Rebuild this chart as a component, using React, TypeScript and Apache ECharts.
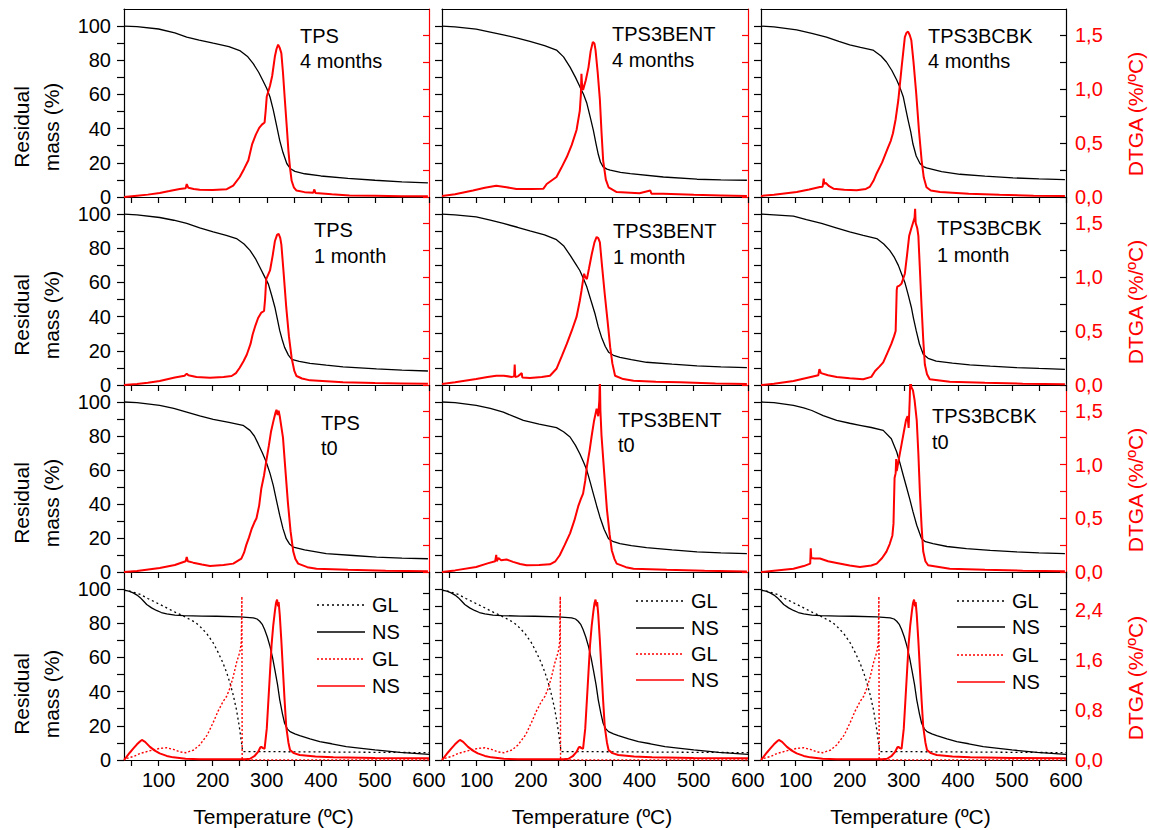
import React, { useEffect, useRef } from 'react';
import * as echarts from 'echarts';

type Pt = [number, number];

// ---------- Tick / label values ----------
const xTicks = [50, 100, 150, 200, 250, 300, 350, 400, 450, 500, 550, 600];
const xLabels = [100, 200, 300, 400, 500, 600];
const massTicks = [0, 10, 20, 30, 40, 50, 60, 70, 80, 90, 100];
const massLabels = [0, 20, 40, 60, 80, 100];
const dtgaTicks = [0, 0.25, 0.5, 0.75, 1, 1.25, 1.5];
const dtgaLabels = [0, 0.5, 1, 1.5];
const dtgaTicks4 = [0, 0.2667, 0.5333, 0.8, 1.0667, 1.3333, 1.6, 1.8667, 2.1333, 2.4, 2.6667];
const dtgaLabels4 = [0, 0.8, 1.6, 2.4];

const sampleNames = ['TPS', 'TPS3BENT', 'TPS3BCBK'];
const ageNames = ['4 months', '1 month', 't0'];

// ---------- Row 1: 4 months ----------
const tga_TPS_4m: Pt[] = [[36,100],[60,99.7],[100,98.3],[130,96],[152,93.6],[175,91.8],[201,90],[230,88],[250,85.7],[265,82],[275,78],[285,73],[293,68],[300,63.5],[306,58.5],[312,51],[318,42],[324,33],[330,26],[337,19.6],[344,16.5],[352,15],[370,13.6],[400,12.3],[450,10.9],[500,9.8],[550,8.9],[598,8.3]];
const dtga_TPS_4m: Pt[] = [[36,0],[60,0.012],[80,0.022],[102,0.037],[120,0.055],[139,0.075],[150,0.08],[152,0.12],[155,0.085],[165,0.075],[176,0.068],[200,0.065],[226,0.072],[238,0.105],[250,0.185],[258,0.26],[266,0.34],[273,0.49],[280,0.58],[286,0.64],[291,0.67],[296,0.69],[298,0.8],[300,0.93],[306,1.03],[310,1.12],[315,1.3],[318,1.37],[321,1.41],[324,1.38],[327,1.33],[330,1.15],[333,0.93],[337,0.65],[340,0.43],[343,0.27],[346,0.15],[350,0.09],[355,0.06],[370,0.045],[386,0.04],[388,0.07],[390,0.038],[420,0.025],[453,0.015],[500,0.012],[550,0.008],[598,0.006]];

const tga_BENT_4m: Pt[] = [[36,100],[60,99.6],[99,98.2],[125,96.5],[149,94.9],[175,93],[198,91],[225,88.6],[247,86],[260,82],[272,76],[282,70],[290,64.6],[297,60],[303,54.8],[309,47],[315,39],[320,31],[324,25],[328,20.5],[333,17.6],[340,16.3],[346,15.7],[365,14.4],[383,13.7],[444,11.7],[506,10.4],[550,10],[598,9.8]];
const dtga_BENT_4m: Pt[] = [[36,0.01],[60,0.025],[93,0.06],[115,0.085],[136,0.105],[155,0.09],[173,0.074],[200,0.074],[223,0.077],[229,0.12],[247,0.185],[256,0.27],[266,0.37],[275,0.48],[284,0.62],[290,0.8],[292,0.95],[293,1.14],[294,1.05],[296,0.99],[301,1.08],[306,1.2],[310,1.35],[314,1.435],[317,1.42],[319,1.36],[323,1.15],[327,0.9],[330,0.6],[333,0.34],[338,0.16],[343,0.09],[358,0.046],[400,0.035],[420,0.06],[422,0.03],[444,0.03],[500,0.02],[550,0.015],[598,0.01]];

const tga_BCBK_4m: Pt[] = [[36,100],[60,99.5],[102,97.8],[130,95.8],[157,93.5],[180,91],[200,89],[220,87.5],[243,86],[258,82.5],[268,79],[278,74],[287,68.5],[293,64],[299,58.7],[304,51],[308,45],[313,38],[317,31],[323,24],[330,19.6],[336,17.8],[342,17],[370,14.8],[404,13.3],[450,12.2],[502,11.2],[550,10.6],[598,10.2]];
const dtga_BCBK_4m: Pt[] = [[36,0.01],[60,0.02],[102,0.046],[125,0.07],[145,0.093],[150,0.095],[152,0.17],[153,0.12],[156,0.13],[162,0.1],[170,0.077],[190,0.066],[213,0.062],[230,0.075],[237,0.093],[244,0.15],[250,0.22],[260,0.32],[271,0.46],[276,0.52],[280,0.59],[285,0.72],[290,0.9],[296,1.2],[302,1.48],[305,1.52],[308,1.53],[311,1.5],[314,1.45],[318,1.25],[323,0.96],[328,0.62],[333,0.34],[337,0.18],[342,0.09],[350,0.06],[367,0.046],[420,0.03],[477,0.02],[540,0.012],[598,0.01]];

// ---------- Row 2: 1 month ----------
const tga_TPS_1m: Pt[] = [[36,100],[60,99.6],[102,98],[128,96.4],[152,94.5],[176,92],[201,89.6],[225,87.6],[244,85.7],[258,82.5],[269,78.8],[279,74],[287,69],[295,64],[303,59],[309,52.5],[315,45.5],[320,38],[324,31.8],[329,26],[333,22],[340,17.5],[346,15],[360,13.8],[380,12.7],[410,11.6],[441,10.6],[503,9.4],[550,8.7],[598,8.2]];
const dtga_TPS_1m: Pt[] = [[36,0],[60,0.01],[80,0.02],[102,0.037],[130,0.07],[148,0.085],[152,0.105],[155,0.09],[170,0.075],[195,0.068],[220,0.075],[235,0.083],[243,0.11],[250,0.16],[257,0.22],[263,0.28],[270,0.38],[274,0.47],[279,0.55],[284,0.62],[290,0.67],[295,0.685],[297,0.8],[299,0.98],[306,1.06],[311,1.2],[315,1.33],[319,1.39],[322,1.4],[325,1.36],[327,1.3],[331,1.05],[336,0.72],[341,0.45],[346,0.25],[351,0.13],[355,0.083],[365,0.06],[380,0.043],[441,0.025],[500,0.018],[550,0.015],[598,0.012]];

const tga_BENT_1m: Pt[] = [[36,100],[60,99.6],[99,98.4],[125,96.5],[149,94.5],[175,92.3],[198,90.2],[225,87.8],[247,85],[260,81.5],[272,76],[282,71],[290,67],[297,62],[303,57.3],[310,50],[318,41.7],[324,34],[330,28],[337,22.5],[343,19.2],[352,17.4],[364,16.2],[385,14.8],[413,13.3],[460,12.2],[506,11.2],[550,10.6],[598,10.2]];
const dtga_BENT_1m: Pt[] = [[36,0.01],[60,0.025],[99,0.056],[120,0.075],[136,0.086],[150,0.085],[165,0.075],[169,0.08],[170,0.19],[171,0.075],[176,0.08],[183,0.11],[184,0.07],[198,0.065],[220,0.075],[235,0.086],[247,0.15],[257,0.27],[266,0.38],[275,0.5],[284,0.63],[290,0.78],[293,0.87],[296,0.97],[298,1.03],[300,1.0],[303,0.98],[307,1.08],[312,1.21],[317,1.32],[321,1.37],[324,1.36],[327,1.32],[331,1.1],[336,0.84],[341,0.6],[346,0.35],[350,0.2],[355,0.086],[370,0.055],[389,0.04],[430,0.03],[475,0.025],[540,0.015],[598,0.01]];

const tga_BCBK_1m: Pt[] = [[36,100],[60,99.6],[96,98.8],[120,96.8],[148,94.5],[175,92],[200,89.6],[225,87.6],[250,85.7],[263,82.5],[274,78.8],[282,75],[290,70],[296,65],[302,60],[308,53],[314,45.5],[318,39],[323,31.8],[329,24],[336,18],[345,15.6],[360,14],[390,12.8],[422,11.8],[460,11],[508,10.2],[550,9.7],[598,9.2]];
const dtga_BCBK_1m: Pt[] = [[36,0],[60,0.012],[96,0.037],[120,0.065],[142,0.09],[144,0.146],[147,0.11],[160,0.09],[176,0.075],[200,0.062],[225,0.053],[240,0.075],[247,0.13],[255,0.17],[262,0.21],[270,0.3],[277,0.38],[282,0.45],[285,0.5],[287,0.88],[288,0.91],[292,0.92],[296,0.94],[302,1.03],[306,1.2],[310,1.38],[314,1.45],[317,1.5],[320,1.55],[321,1.63],[322,1.5],[325,1.45],[327,1.38],[330,1.05],[333,0.72],[336,0.42],[339,0.19],[343,0.1],[348,0.053],[385,0.03],[450,0.02],[520,0.012],[598,0.006]];

// ---------- Row 3: t0 ----------
const tga_TPS_t0: Pt[] = [[36,100],[60,99.6],[102,98],[128,96.2],[152,94],[176,91.8],[201,89.8],[230,88],[256,86.3],[269,83.3],[277,80],[284,75.5],[292,70],[299,64.7],[306,58],[312,51],[318,42],[324,33.3],[330,25.5],[336,19.6],[342,16.5],[349,14.7],[370,13],[410,10.8],[460,9.7],[503,8.8],[550,8.2],[598,7.8]];
const dtga_TPS_t0: Pt[] = [[36,0],[60,0.01],[102,0.037],[130,0.065],[150,0.1],[152,0.14],[154,0.1],[164,0.087],[180,0.07],[195,0.056],[220,0.065],[238,0.078],[253,0.124],[258,0.18],[262,0.25],[267,0.32],[272,0.4],[277,0.46],[281,0.5],[286,0.62],[290,0.78],[295,0.9],[299,1.03],[304,1.18],[308,1.31],[313,1.42],[316,1.48],[318,1.51],[320,1.46],[322,1.5],[324,1.45],[327,1.35],[330,1.25],[334,0.98],[339,0.65],[344,0.38],[349,0.19],[353,0.12],[358,0.078],[375,0.045],[392,0.031],[450,0.02],[520,0.012],[598,0.006]];

const tga_BENT_t0: Pt[] = [[36,100],[60,99.6],[99,98],[125,96.2],[149,94],[168,91.5],[186,89.2],[215,87],[247,84.9],[260,82.5],[272,79.4],[282,74.5],[290,69.6],[297,64.5],[303,59.8],[309,53],[315,46],[321,39],[327,32.4],[335,25],[343,19.6],[352,17.8],[364,16.7],[385,15.5],[413,14.3],[460,13],[506,11.8],[550,11.2],[598,10.8]];
const dtga_BENT_t0: Pt[] = [[36,0],[60,0.015],[99,0.047],[120,0.08],[134,0.1],[136,0.16],[137,0.1],[140,0.13],[145,0.11],[155,0.116],[167,0.094],[180,0.075],[192,0.0625],[215,0.065],[235,0.072],[245,0.1],[253,0.156],[262,0.25],[272,0.36],[280,0.48],[287,0.61],[292,0.68],[296,0.73],[300,0.85],[303,0.98],[308,1.13],[312,1.27],[316,1.4],[321,1.52],[324,1.45],[326,1.6],[327,1.8],[328,1.5],[330,1.27],[335,0.92],[340,0.58],[345,0.35],[349,0.2],[354,0.12],[358,0.078],[375,0.045],[389,0.031],[450,0.02],[520,0.012],[598,0.005]];

const tga_BCBK_t0: Pt[] = [[36,100],[60,99.6],[96,98],[115,96.5],[130,95],[151,92],[176,89.2],[200,87.5],[219,86.3],[240,85],[262,83.3],[277,78.4],[287,70.6],[293,64],[299,56.9],[305,50],[311,43],[317,35.5],[324,27.5],[333,19.6],[340,17.8],[354,16.7],[380,15],[416,13.7],[460,12.7],[508,11.8],[550,11.2],[598,10.8]];
const dtga_BCBK_t0: Pt[] = [[36,0],[60,0.012],[96,0.03],[115,0.055],[127,0.078],[128,0.22],[129,0.13],[135,0.125],[145,0.125],[160,0.1],[176,0.084],[200,0.06],[219,0.047],[240,0.06],[250,0.078],[260,0.13],[268,0.19],[274,0.26],[279,0.34],[281,0.45],[283,0.875],[285,0.92],[286,1.05],[287,0.94],[292,1.08],[296,1.19],[300,1.3],[304,1.41],[307,1.45],[309,1.34],[311,1.6],[312,1.8],[314,1.72],[317,1.69],[320,1.6],[324,1.41],[327,1.1],[330,0.72],[333,0.42],[336,0.19],[340,0.1],[345,0.0625],[385,0.03],[450,0.02],[520,0.012],[598,0.006]];

// ---------- Row 4: references (GL, NS) ----------
const tga_GL: Pt[] = [[36,99.4],[50,98.5],[66,96.9],[80,94.5],[96,92],[112,89.5],[127,87],[143,84.7],[158,82.2],[168,80.5],[176,78.3],[189,74],[201,68.5],[210,63],[219,56.8],[226,51],[232,45],[238,38],[244,29.4],[249,20],[253,10.8],[255,6],[256,4.9],[300,4.9],[400,4.7],[500,4.5],[600,4.3]];
const tga_NS: Pt[] = [[36,99.4],[45,98.8],[53,97.8],[60,96.5],[66,95],[72,93],[78,91],[87,89],[96,87.5],[105,86.3],[115,85.5],[130,84.8],[146,84.5],[180,84.2],[207,84.1],[250,83.8],[275,83.2],[282,82.5],[287,81.2],[292,79.2],[296,76.3],[301,72],[306,66.5],[311,59.5],[315,52.8],[320,44],[324,35.2],[329,27],[333,21.5],[338,18.2],[343,16.6],[352,15.3],[361,14.3],[380,12.4],[398,10.8],[420,9.5],[447,7.8],[475,6.8],[500,5.9],[546,4.5],[600,3.3]];
const dtga_GL: Pt[] = [[41,0.026],[55,0.06],[66,0.105],[85,0.15],[102,0.185],[115,0.195],[127,0.17],[139,0.13],[150,0.116],[165,0.16],[176,0.24],[190,0.4],[201,0.6],[210,0.78],[219,0.93],[226,1.02],[232,1.15],[238,1.33],[244,1.55],[248,1.66],[250,1.72],[252,1.82],[253,1.9],[254,2.61],[254.5,0],[300,0],[400,0],[500,0],[600,0]];
const dtga_NS: Pt[] = [[36,0],[41,0.053],[47,0.12],[53,0.18],[60,0.25],[66,0.3],[69,0.32],[75,0.29],[84,0.21],[93,0.15],[102,0.105],[115,0.065],[127,0.042],[150,0.02],[176,0.01],[238,0.01],[260,0.012],[269,0.02],[277,0.06],[284,0.13],[288,0.2],[290,0.21],[293,0.19],[296,0.18],[300,0.5],[303,0.95],[306,1.4],[309,1.85],[312,2.15],[315,2.37],[317,2.5],[319,2.56],[321,2.45],[322,2.52],[324,2.32],[327,1.9],[330,1.42],[333,0.95],[336,0.53],[340,0.28],[343,0.16],[350,0.11],[361,0.08],[390,0.055],[423,0.042],[500,0.032],[600,0.026]];

const tgaPanels: Pt[][][] = [
  [tga_TPS_4m, tga_BENT_4m, tga_BCBK_4m],
  [tga_TPS_1m, tga_BENT_1m, tga_BCBK_1m],
  [tga_TPS_t0, tga_BENT_t0, tga_BCBK_t0],
];
const dtgaPanels: Pt[][][] = [
  [dtga_TPS_4m, dtga_BENT_4m, dtga_BCBK_4m],
  [dtga_TPS_1m, dtga_BENT_1m, dtga_BCBK_1m],
  [dtga_TPS_t0, dtga_BENT_t0, dtga_BCBK_t0],
];

// ---------- Layout ----------
const FONT = '"Liberation Sans", Arial, sans-serif';
const RED = '#ff0000';
const colLeft = [124, 442, 761];
const colWidth = [305, 306, 305];
const rowTop = [9, 197, 385, 572];
const rowHeight = [188, 188, 187, 188];
const annot: [number, number, number][][] = [
  [[300, 35.5, 61], [612, 33.5, 60], [928, 35.5, 60.5]],
  [[314, 229.5, 256], [613, 230.5, 257], [937, 227.5, 254.5]],
  [[321, 422.5, 448], [618, 419.5, 445], [932, 415.5, 442]],
];
const legendPos: { x1: number; x2: number; tx: number; ys: number[] }[] = [
  { x1: 317, x2: 365, tx: 372, ys: [605, 632, 659, 686] },
  { x1: 636, x2: 684, tx: 691, ys: [601, 628, 654, 680] },
  { x1: 957, x2: 1005, tx: 1012, ys: [601, 627, 655, 682] },
];

const fmtComma = (v: number) => v.toFixed(1).replace('.', ',');

function buildOption() {
  const grid: any[] = [];
  const xAxis: any[] = [];
  const yAxis: any[] = [];
  const series: any[] = [];
  const graphic: any[] = [];

  for (let r = 0; r < 4; r++) {
    for (let c = 0; c < 3; c++) {
      const i = r * 3 + c;
      grid.push({ left: colLeft[c], top: rowTop[r], width: colWidth[c], height: rowHeight[r], outerBoundsMode: 'none' });
      xAxis.push({
        gridIndex: i, type: 'value', position: 'bottom', min: 36, max: 600,
        axisLine: { show: true, onZero: false, lineStyle: { color: '#000', width: 1.2 } },
        axisTick: { show: true, inside: false, length: 6, customValues: xTicks, lineStyle: { color: '#000', width: 1.2 } },
        axisLabel: { show: r === 3, customValues: xLabels, margin: 10, fontSize: 20, color: '#000', fontFamily: FONT },
        splitLine: { show: false },
      });
      xAxis.push({
        gridIndex: i, type: 'value', position: 'top', min: 36, max: 600,
        axisLine: { show: true, onZero: false, lineStyle: { color: '#000', width: 1.2 } },
        axisTick: { show: false }, axisLabel: { show: false }, splitLine: { show: false },
      });
      yAxis.push({
        gridIndex: i, type: 'value', position: 'left', min: 0, max: 110,
        axisLine: { show: true, onZero: false, lineStyle: { color: '#000', width: 1.2 } },
        axisTick: { show: true, inside: false, length: 7, customValues: massTicks, lineStyle: { color: '#000', width: 1.2 } },
        axisLabel: { show: c === 0, customValues: massLabels, margin: 13, fontSize: 20, color: '#000', fontFamily: FONT },
        splitLine: { show: false },
      });
      const redAxis = (r < 3 && c < 2) || (r === 2 && c === 2);
      const axCol = redAxis ? RED : '#000';
      yAxis.push({
        gridIndex: i, type: 'value', position: 'right', min: 0, max: r === 3 ? 3.0 : 1.74,
        axisLine: { show: true, onZero: false, lineStyle: { color: axCol, width: 1.2 } },
        axisTick: { show: true, inside: true, length: 6, customValues: r === 3 ? dtgaTicks4 : dtgaTicks, lineStyle: { color: axCol, width: 1.2 } },
        axisLabel: { show: c === 2, customValues: r === 3 ? dtgaLabels4 : dtgaLabels, margin: 9, fontSize: 20, color: RED, fontFamily: FONT, formatter: fmtComma },
        splitLine: { show: false },
      });

      const base = { type: 'line', showSymbol: false, symbol: 'none', silent: true, xAxisIndex: 2 * i, clip: true, animation: false };
      if (r < 3) {
        series.push({ ...base, yAxisIndex: 2 * i, data: tgaPanels[r][c], lineStyle: { color: '#000', width: 1.3 }, z: 3 });
        series.push({ ...base, yAxisIndex: 2 * i + 1, data: dtgaPanels[r][c], lineStyle: { color: RED, width: 2 }, z: 4 });
        const [ax, ay1, ay2] = annot[r][c];
        graphic.push({ type: 'text', x: ax, y: ay1, silent: true, style: { text: sampleNames[c], fill: '#000', fontSize: 20, fontFamily: FONT, textAlign: 'left', textVerticalAlign: 'middle' } });
        graphic.push({ type: 'text', x: ax, y: ay2, silent: true, style: { text: ageNames[r], fill: '#000', fontSize: 20, fontFamily: FONT, textAlign: 'left', textVerticalAlign: 'middle' } });
      } else {
        series.push({ ...base, name: 'GL', yAxisIndex: 2 * i, data: tga_GL, lineStyle: { color: '#000', width: 1.3, type: [2, 3] }, z: 3 });
        series.push({ ...base, name: 'NS', yAxisIndex: 2 * i, data: tga_NS, lineStyle: { color: '#000', width: 1.3 }, z: 3 });
        series.push({ ...base, name: 'GL', yAxisIndex: 2 * i + 1, data: dtga_GL, lineStyle: { color: RED, width: 1.4, type: [2, 2] }, z: 4 });
        series.push({ ...base, name: 'NS', yAxisIndex: 2 * i + 1, data: dtga_NS, lineStyle: { color: RED, width: 2 }, z: 5 });
        const lp = legendPos[c];
        const items: [string, string, any][] = [
          ['GL', '#000', [2, 3]],
          ['NS', '#000', null],
          ['GL', RED, [2, 2]],
          ['NS', RED, null],
        ];
        items.forEach(([txt, col, dash], k) => {
          graphic.push({ type: 'line', silent: true, shape: { x1: lp.x1, y1: lp.ys[k], x2: lp.x2, y2: lp.ys[k] }, style: { stroke: col, lineWidth: 1.4, lineDash: dash || undefined } });
          graphic.push({ type: 'text', x: lp.tx, y: lp.ys[k], silent: true, style: { text: txt, fill: '#000', fontSize: 20, fontFamily: FONT, textAlign: 'left', textVerticalAlign: 'middle' } });
        });
      }
    }
  }

  // axis titles
  const massY = [127, 315, 503, 694];
  const dtgaY = [114, 302, 490, 678];
  for (let r = 0; r < 4; r++) {
    graphic.push({ type: 'text', x: 21, y: massY[r], rotation: Math.PI / 2, silent: true, style: { text: 'Residual', fill: '#000', fontSize: 21, fontFamily: FONT, textAlign: 'center', textVerticalAlign: 'middle' } });
    graphic.push({ type: 'text', x: 51, y: massY[r], rotation: Math.PI / 2, silent: true, style: { text: 'mass (%)', fill: '#000', fontSize: 21, fontFamily: FONT, textAlign: 'center', textVerticalAlign: 'middle' } });
    graphic.push({ type: 'text', x: 1135, y: dtgaY[r], rotation: Math.PI / 2, silent: true, style: { text: 'DTGA (%/ºC)', fill: RED, fontSize: 21, fontFamily: FONT, textAlign: 'center', textVerticalAlign: 'middle' } });
  }
  for (let c = 0; c < 3; c++) {
    graphic.push({ type: 'text', x: colLeft[c] + colWidth[c] / 2 - 3, y: 816, silent: true, style: { text: 'Temperature (ºC)', fill: '#000', fontSize: 21, fontFamily: FONT, textAlign: 'center', textVerticalAlign: 'middle' } });
  }

  return {
    animation: false,
    backgroundColor: '#ffffff',
    textStyle: { fontFamily: FONT },
    grid, xAxis, yAxis, series, graphic,
  };
}

export default function App() {
  const ref = useRef<HTMLDivElement | null>(null);
  useEffect(() => {
    document.body.style.margin = '0';
    if (!ref.current) return;
    const chart = echarts.init(ref.current, undefined, { renderer: 'svg' });
    chart.setOption(buildOption() as any);
    return () => chart.dispose();
  }, []);
  return <div ref={ref} style={{ width: 1149, height: 830, background: '#fff' }} />;
}
